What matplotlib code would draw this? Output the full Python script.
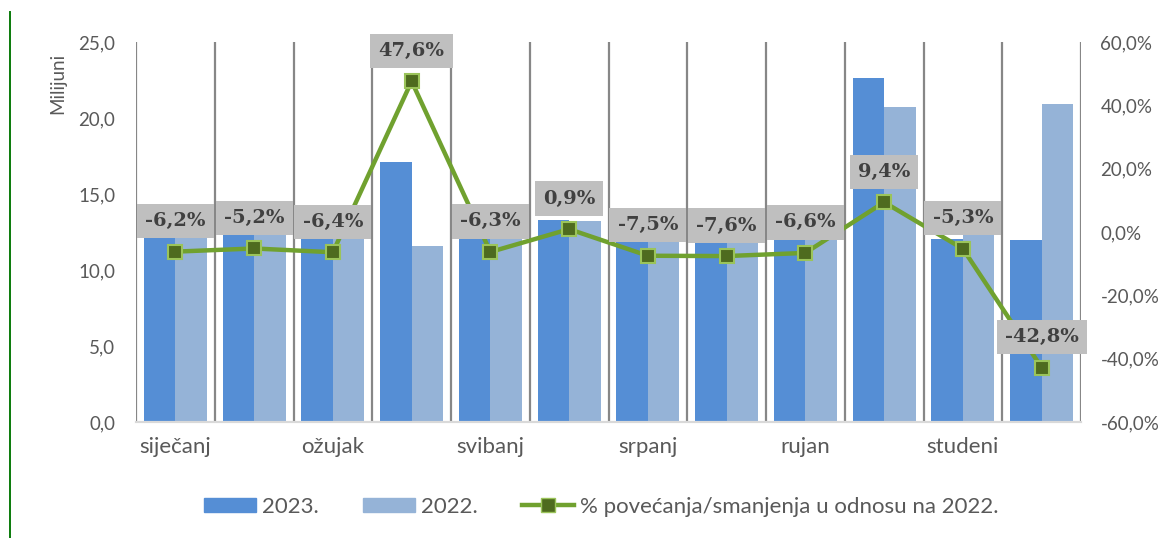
import matplotlib
matplotlib.use("Agg")
import matplotlib.pyplot as plt
import numpy as np
from matplotlib.lines import Line2D
from matplotlib.patches import Patch

# ======================================================
# Data
# ======================================================

months = ["siječanj", "veljača", "ožujak", "travanj", "svibanj", "lipanj",
          "srpanj", "kolovoz", "rujan", "listopad", "studeni", "prosinac"]
values_2023 = [12.3, 12.5, 12.3, 17.1, 12.2, 13.3, 12.0, 12.0, 12.2, 22.6, 12.05, 12.0]
values_2022 = [13.1, 13.2, 13.1, 11.6, 13.0, 13.2, 13.0, 13.0, 13.1, 20.7, 12.7, 20.9]
change_pct = [-6.2, -5.2, -6.4, 47.6, -6.3, 0.9, -7.5, -7.6, -6.6, 9.4, -5.3, -42.8]

COLOR_2023 = "#558ED5"
COLOR_2022 = "#95B3D7"
COLOR_LINE = "#70A12F"
TEXT_GRAY = "#595959"

plt.rcParams["font.family"] = ["Lato", "DejaVu Sans"]

# ======================================================
# Plot
# ======================================================

fig = plt.figure(figsize=(11.64, 5.38), dpi=100)
ax = fig.add_axes([136 / 1164, 1 - 422 / 538, (1081 - 136) / 1164, 380 / 538])
ax2 = ax.twinx()

x = np.arange(len(months))
ax.bar(x - 0.2, values_2023, width=0.4, color=COLOR_2023, zorder=2)
ax.bar(x + 0.2, values_2022, width=0.4, color=COLOR_2022, zorder=2)

for b in np.arange(len(months) + 1) - 0.5:
    ax.axvline(b, color="#878787", lw=1.6, zorder=1)

ax.set_xlim(-0.5, len(months) - 0.5)
ax.set_ylim(0, 25)
ax.set_yticks(np.arange(0, 26, 5))
ax.set_yticklabels([f"{v:.1f}".replace(".", ",") for v in np.arange(0, 26, 5)])
ax.set_xticks(x[::2])
ax.set_xticklabels(months[::2])
ax.tick_params(axis="both", length=0, colors=TEXT_GRAY)
ax.tick_params(axis="y", pad=15, labelsize=13.5)
ax.tick_params(axis="x", pad=11, labelsize=16)

ax2.plot(x, change_pct, color=COLOR_LINE, lw=3.2, marker="s", markersize=10.5,
         markerfacecolor="#4E6B1F", markeredgecolor="#9BC45A",
         markeredgewidth=1.5, zorder=3)
ax2.set_ylim(-60, 60)
ax2.set_yticks(np.arange(-60, 61, 20))
ax2.set_yticklabels([f"{v:.1f}%".replace(".", ",") for v in np.arange(-60, 61, 20)])
ax2.tick_params(axis="y", length=0, labelsize=13.5, colors=TEXT_GRAY, pad=14)

for xi, p in zip(x, change_pct):
    ax2.annotate(f"{p:.1f}%".replace(".", ","), (xi, p), xytext=(0, 22),
                 textcoords="offset points", ha="center", va="center",
                 fontsize=14, fontweight="bold", family="DejaVu Serif",
                 color="#404040", zorder=5,
                 bbox=dict(boxstyle="square,pad=0.42", fc="#BFBFBF", ec="none"))

for a in (ax, ax2):
    for s in ("top", "left", "right"):
        a.spines[s].set_visible(False)
    a.spines["bottom"].set_color("#D9D9D9")
    a.spines["bottom"].set_linewidth(1.5)

fig.text(58 / 1164, 1 - 83 / 538, "Milijuni", rotation=90, ha="center",
         va="center", fontsize=13.5, color=TEXT_GRAY)

# page border line on the left
fig.add_artist(Line2D([10 / 1164, 10 / 1164], [1 - 12 / 538, 0],
                      color="#0A7A0A", lw=1.4))

handles = [
    Patch(color=COLOR_2023, label="2023."),
    Patch(color=COLOR_2022, label="2022."),
    Line2D([], [], color=COLOR_LINE, lw=3.2, marker="s", markersize=10.5,
           markerfacecolor="#4E6B1F", markeredgecolor="#9BC45A",
           label="% povećanja/smanjenja u odnosu na 2022."),
]
fig.legend(handles=handles, loc="center", bbox_to_anchor=(601 / 1164, 1 - 507 / 538),
           ncol=3, frameon=False, fontsize=16, labelcolor=TEXT_GRAY,
           handlelength=2.35, handleheight=0.63, handletextpad=0.25,
           columnspacing=2.0, numpoints=1)

fig.savefig("out.png", dpi=100)
